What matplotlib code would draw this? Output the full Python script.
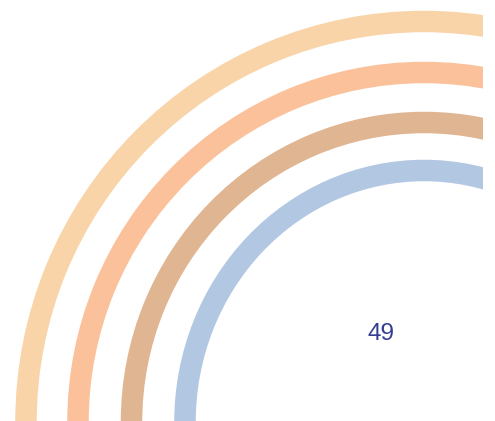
import matplotlib
matplotlib.use('Agg')
import matplotlib.pyplot as plt
from matplotlib.patches import Arc

# ring values (centre-line radii in pixels, horizontal / vertical)
ring_rx = [398, 346, 292.5, 239]
ring_ry = [400.5, 349.5, 299.5, 251.5]
ring_colors = ['#F9D4A9', '#FBC19B', '#E0B592', '#B1C7E2']
center_value = 49

W, H = 495, 421
right_edge = 483
cx, cy = 424, 422
ring_px = 21.5

fig = plt.figure(figsize=(W / 100., H / 100.), dpi=100)
# arcs are clipped at the right edge, leaving a white strip
ax = fig.add_axes([0, 0, right_edge / float(W), 1])
ax.set_xlim(0, right_edge)
ax.set_ylim(H, 0)
ax.axis('off')

lw = ring_px * 72. / 100.
for rx, ry, c in zip(ring_rx, ring_ry, ring_colors):
  ax.add_patch(Arc((cx, cy), 2 * rx, 2 * ry, theta1=0, theta2=360,
                   lw=lw, color=c, capstyle='butt'))

ax.text(381, 334, str(center_value), ha='center', va='center',
        fontsize=17.5, color='#333E92', family=['Liberation Sans', 'DejaVu Sans'])

fig.savefig('out.png', dpi=100)
